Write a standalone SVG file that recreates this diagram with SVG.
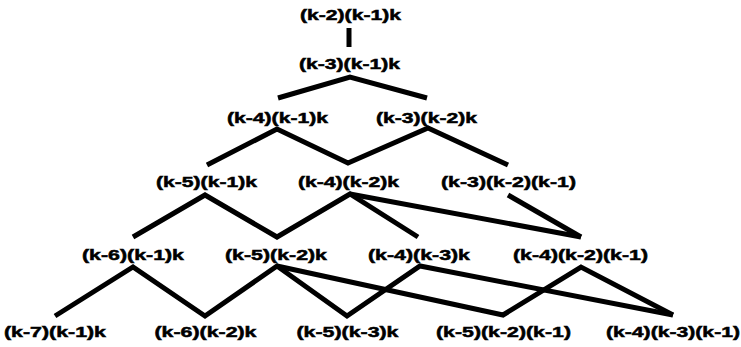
<svg xmlns="http://www.w3.org/2000/svg" width="741" height="347" viewBox="0 0 741 347">
<style>
.lbl{font-family:"Liberation Sans",Arial,sans-serif;font-weight:bold;font-size:15px;fill:#000;stroke:#000;stroke-width:0.5;text-anchor:middle}
.edge{fill:none;stroke:#000;stroke-width:5;stroke-linejoin:miter;stroke-linecap:butt}
</style>
<rect width="741" height="347" fill="#fff"/>
<g id="connectors">
<line class="edge" x1="349" y1="28" x2="349" y2="47"/>
<polyline class="edge" points="278,98 350,77 427,98"/>
<polyline class="edge" points="207,165 277,129 348,163 428,128 508,165"/>
<polyline class="edge" points="133,237 205,195 277,237 350,194 418,237"/>
<line class="edge" x1="350" y1="194" x2="581" y2="237"/>
<line class="edge" x1="508" y1="195" x2="581" y2="237"/>
<polyline class="edge" points="55,316 133,267 205,316 277,266 347,316 420,266 673,315"/>
<polyline class="edge" points="277,266 503,315 581,267 673,315"/>
</g>
<g id="n1"><text class="lbl" x="350.5" y="20" textLength="101" lengthAdjust="spacingAndGlyphs">(k-2)(k-1)k</text></g>
<g id="n2"><text class="lbl" x="349.5" y="68.5" textLength="101" lengthAdjust="spacingAndGlyphs">(k-3)(k-1)k</text></g>
<g id="n3"><text class="lbl" x="277.5" y="123" textLength="101" lengthAdjust="spacingAndGlyphs">(k-4)(k-1)k</text></g>
<g id="n4"><text class="lbl" x="426.5" y="123" textLength="101" lengthAdjust="spacingAndGlyphs">(k-3)(k-2)k</text></g>
<g id="n5"><text class="lbl" x="206.5" y="187" textLength="101" lengthAdjust="spacingAndGlyphs">(k-5)(k-1)k</text></g>
<g id="n6"><text class="lbl" x="348.5" y="187" textLength="101" lengthAdjust="spacingAndGlyphs">(k-4)(k-2)k</text></g>
<g id="n7"><text class="lbl" x="508.5" y="187" textLength="135" lengthAdjust="spacingAndGlyphs">(k-3)(k-2)(k-1)</text></g>
<g id="n8"><text class="lbl" x="133" y="260" textLength="102" lengthAdjust="spacingAndGlyphs">(k-6)(k-1)k</text></g>
<g id="n9"><text class="lbl" x="276" y="260" textLength="102" lengthAdjust="spacingAndGlyphs">(k-5)(k-2)k</text></g>
<g id="n10"><text class="lbl" x="419" y="259.5" textLength="102" lengthAdjust="spacingAndGlyphs">(k-4)(k-3)k</text></g>
<g id="n11"><text class="lbl" x="580.5" y="260" textLength="135" lengthAdjust="spacingAndGlyphs">(k-4)(k-2)(k-1)</text></g>
<g id="n12"><text class="lbl" x="55" y="337" textLength="102" lengthAdjust="spacingAndGlyphs">(k-7)(k-1)k</text></g>
<g id="n13"><text class="lbl" x="205.5" y="337" textLength="102" lengthAdjust="spacingAndGlyphs">(k-6)(k-2)k</text></g>
<g id="n14"><text class="lbl" x="347.5" y="337" textLength="102" lengthAdjust="spacingAndGlyphs">(k-5)(k-3)k</text></g>
<g id="n15"><text class="lbl" x="503.5" y="337" textLength="135" lengthAdjust="spacingAndGlyphs">(k-5)(k-2)(k-1)</text></g>
<g id="n16"><text class="lbl" x="673" y="337" textLength="134" lengthAdjust="spacingAndGlyphs">(k-4)(k-3)(k-1)</text></g>
</svg>
